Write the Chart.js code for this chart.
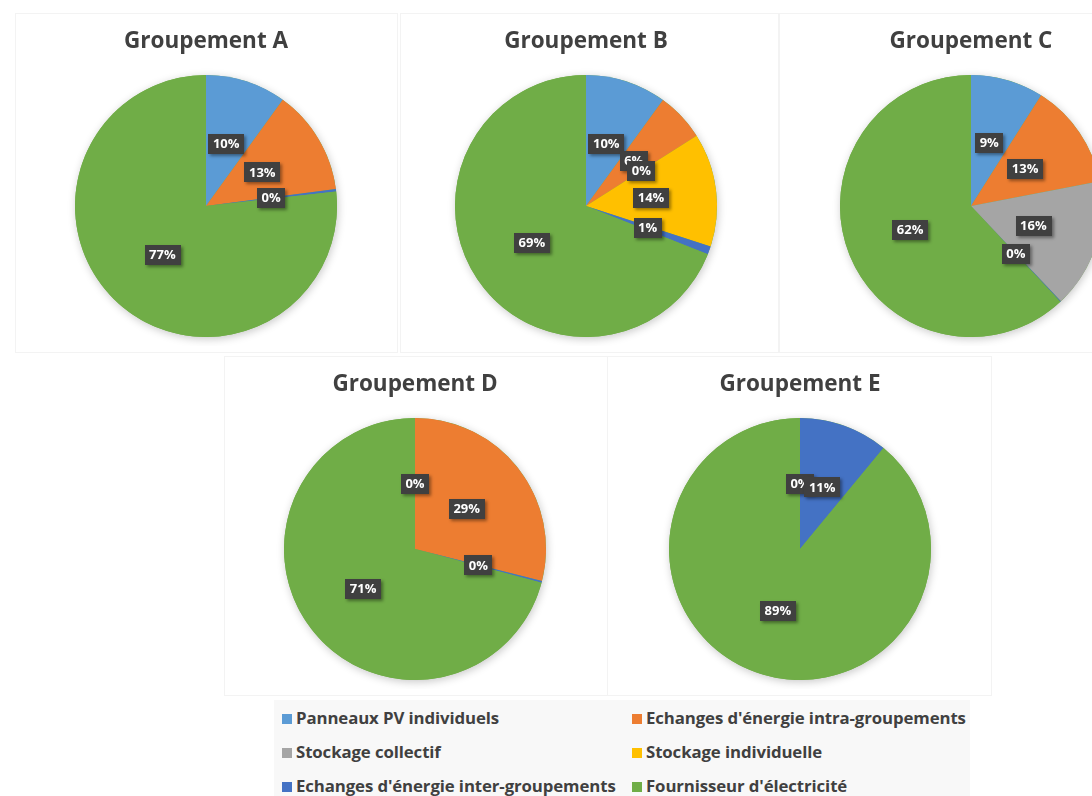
<!DOCTYPE html>
<html>
<head>
<meta charset="utf-8">
<script src="https://cdn.jsdelivr.net/npm/chart.js@4"></script>
<style>
  html, body { margin:0; padding:0; background:#ffffff; }
  body { width:1092px; height:796px; position:relative; overflow:hidden; font-family:'Open Sans', sans-serif; }
  .panel { position:absolute; border:1px solid #f3f3f3; box-sizing:border-box; background:#ffffff; }
  .cv { position:absolute; }
  #legend { position:absolute; left:274px; top:700px; width:696px; height:96px; background:#f8f8f8; }
  .li { position:absolute; font-weight:700; font-size:16.8px; color:#404040; white-space:nowrap; line-height:20px; letter-spacing:-0.1px; }
  .sw { display:inline-block; width:10px; height:10px; margin-right:4px; vertical-align:0px; }
</style>
</head>
<body>
<div class="panel" style="left:15px;top:13px;width:383px;height:340px"></div>
<div class="panel" style="left:400px;top:13px;width:379px;height:340px"></div>
<div class="panel" style="left:779px;top:13px;width:320px;height:340px"></div>
<div class="panel" style="left:224px;top:356px;width:384px;height:340px"></div>
<div class="panel" style="left:607px;top:356px;width:385px;height:340px"></div>
<div id="legend"></div>
<canvas id="cA" class="cv" width="360" height="346" style="left:26px;top:0px"></canvas>
<canvas id="cB" class="cv" width="360" height="346" style="left:406px;top:0px"></canvas>
<canvas id="cC" class="cv" width="360" height="346" style="left:791px;top:0px"></canvas>
<canvas id="cD" class="cv" width="360" height="346" style="left:235px;top:343px"></canvas>
<canvas id="cE" class="cv" width="360" height="346" style="left:620px;top:343px"></canvas>
<script>
// ---- data ----
const categories = [
  "Panneaux PV individuels",
  "Echanges d'énergie intra-groupements",
  "Stockage collectif",
  "Stockage individuelle",
  "Echanges d'énergie inter-groupements",
  "Fournisseur d'électricité"
];
const colors = ["#5B9BD5", "#ED7D31", "#A5A5A5", "#FFC000", "#4472C4", "#70AD47"];
const groupTitles = ["Groupement A", "Groupement B", "Groupement C", "Groupement D", "Groupement E"];
const groupA = [10, 13, null, null, 0.3, 77];
const groupB = [10, 6, 0, 14, 1, 69];
const groupC = [9, 13, 16, null, 0.1, 62];
const groupD = [0, 29, null, null, 0.2, 71];
const groupE = [0, null, null, null, 11, 89];

// ---- legend (HTML, from arrays) ----
const legend = document.getElementById('legend');
const legendCols = [8, 358];
const legendRows = [8, 42, 76];
categories.forEach((c, i) => {
  const d = document.createElement('div');
  d.className = 'li';
  d.style.left = legendCols[i % 2] + 'px';
  d.style.top = legendRows[Math.floor(i / 2)] + 'px';
  d.innerHTML = '<span class="sw" style="background:' + colors[i] + '"></span>';
  d.appendChild(document.createTextNode(c));
  legend.appendChild(d);
});

// ---- plugins ----
const shadowPlugin = {
  id: 'pieShadow',
  beforeDatasetsDraw(chart) {
    const meta = chart.getDatasetMeta(0);
    const el = meta.data.find(e => e);
    if (!el) return;
    const ctx = chart.ctx;
    ctx.save();
    ctx.shadowColor = 'rgba(0,0,0,0.22)';
    ctx.shadowBlur = 9;
    ctx.shadowOffsetX = 1;
    ctx.shadowOffsetY = 2;
    ctx.fillStyle = '#70AD47';
    ctx.beginPath();
    ctx.arc(el.x, el.y, el.outerRadius, 0, Math.PI * 2);
    ctx.fill();
    ctx.restore();
  }
};
const labelPlugin = {
  id: 'boxLabels',
  afterDatasetsDraw(chart) {
    const ctx = chart.ctx;
    const ds = chart.data.datasets[0];
    const meta = chart.getDatasetMeta(0);
    ctx.save();
    ctx.font = "bold 13px 'Open Sans', sans-serif";
    ctx.textAlign = 'center';
    ctx.textBaseline = 'middle';
    meta.data.forEach((arc, i) => {
      const v = ds.data[i];
      if (v === null || v === undefined) return;
      const p = arc.tooltipPosition();
      const txt = Math.round(v) + '%';
      const w = ctx.measureText(txt).width + 9;
      const h = 20;
      ctx.save();
      ctx.shadowColor = 'rgba(0,0,0,0.4)';
      ctx.shadowBlur = 3;
      ctx.shadowOffsetX = 2;
      ctx.shadowOffsetY = 2;
      ctx.fillStyle = '#404040';
      ctx.fillRect(Math.round(p.x - w / 2), Math.round(p.y - h / 2), Math.round(w), h);
      ctx.restore();
      ctx.fillStyle = '#ffffff';
      ctx.fillText(txt, p.x, p.y + 0.5);
    });
    ctx.restore();
  }
};

function makePie(id, title, values) {
  return new Chart(document.getElementById(id), {
    type: 'pie',
    data: {
      labels: categories,
      datasets: [{
        data: values,
        backgroundColor: colors,
        borderWidth: 0,
        radius: 131
      }]
    },
    options: {
      responsive: false,
      animation: false,
      events: [],
      layout: { padding: 0 },
      plugins: {
        legend: { display: false },
        tooltip: { enabled: false },
        title: {
          display: true,
          text: title,
          color: '#404040',
          font: { family: "'Open Sans', sans-serif", size: 22.5, weight: 'bold', lineHeight: 1.2 },
          padding: { top: 28, bottom: 11 }
        }
      }
    },
    plugins: [shadowPlugin, labelPlugin]
  });
}
makePie('cA', groupTitles[0], groupA);
makePie('cB', groupTitles[1], groupB);
makePie('cC', groupTitles[2], groupC);
makePie('cD', groupTitles[3], groupD);
makePie('cE', groupTitles[4], groupE);
</script>
</body>
</html>
